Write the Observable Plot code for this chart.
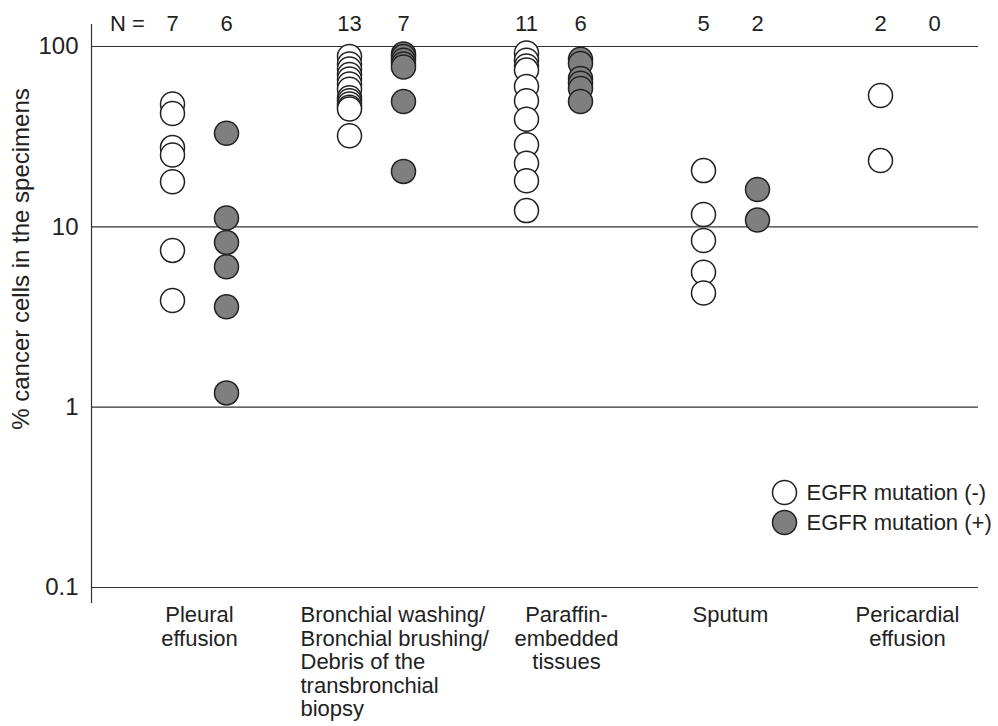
<!DOCTYPE html>
<html>
<head>
<meta charset="utf-8">
<script src="https://cdn.jsdelivr.net/npm/d3@7"></script>
<script src="https://cdn.jsdelivr.net/npm/@observablehq/plot@0.6"></script>
<style>
  html, body { margin: 0; padding: 0; background: #fff; }
</style>
</head>
<body>
<div id="chart"></div>
<script>
// Specimen categories (x)
const groups = ["Pleural", "Bronchial", "Paraffin", "Sputum", "Pericardial"];
const groupLabels = [
  "Pleural\neffusion",
  "Bronchial washing/\nBronchial brushing/\nDebris of the\ntransbronchial\nbiopsy",
  "Paraffin-\nembedded\ntissues",
  "Sputum",
  "Pericardial\neffusion"
];

// % cancer cells, EGFR mutation (-)
const pleuralNeg = [48, 42.5, 27.5, 25, 17.8, 7.4, 3.9];
const bronchialNeg = [88, 80, 75, 70, 66, 62, 58, 52, 50, 48, 46, 45, 32];
const paraffinNeg = [92, 84, 78, 74, 60, 50, 39.5, 28.5, 22.5, 18, 12.3];
const sputumNeg = [20.5, 11.7, 8.4, 5.6, 4.3];
const pericardialNeg = [53.5, 23.3];

// % cancer cells, EGFR mutation (+)
const pleuralPos = [33, 11.2, 8.2, 6.0, 3.6, 1.2];
const bronchialPos = [91, 88, 84, 80, 77, 49.5, 20.3];
const paraffinPos = [85, 80.5, 66.5, 62.5, 58.5, 49.5];
const sputumPos = [16.1, 10.9];
const pericardialPos = [];

const yTicks = [0.1, 1, 10, 100];
const legendLabels = ["EGFR mutation (-)", "EGFR mutation (+)"];
const yLabel = "% cancer cells in the specimens";

const negLists = [pleuralNeg, bronchialNeg, paraffinNeg, sputumNeg, pericardialNeg];
const posLists = [pleuralPos, bronchialPos, paraffinPos, sputumPos, pericardialPos];

const neg = negLists.flatMap((vals, i) => vals.map(v => ({group: groups[i], value: v})));
const pos = posLists.flatMap((vals, i) => vals.map(v => ({group: groups[i], value: v})));
const counts = groups.map((g, i) => ({group: g, nNeg: negLists[i].length, nPos: posLists[i].length}));
const labelRows = groups.map((g, i) => ({group: g, label: groupLabels[i]}));

const GRAY = "#7f7f7f";
const INK = "#222";
const OFF = 27;
const FS = 22;
const LBL = {frameAnchor: "bottom", dy: 18, lineAnchor: "top", lineHeight: 1.07, fontSize: FS, fill: INK};

const chart = Plot.plot({
  width: 998,
  height: 726,
  marginTop: 46,
  marginBottom: 139,
  marginLeft: 91,
  marginRight: 20,
  style: {fontFamily: "'Liberation Sans', Arial, Helvetica, sans-serif", fontSize: "22px", color: "#222", background: "#fff"},
  x: {type: "point", domain: groups, range: [198.5, 908], padding: 0, axis: null},
  y: {type: "log", domain: [0.1, 100], axis: null},
  marks: [
    Plot.ruleY(yTicks, {stroke: "#333", strokeWidth: 1.2}),
    Plot.frame({anchor: "left", insetTop: -22, insetBottom: -15, stroke: "#333", strokeWidth: 1.2}),
    // y tick labels
    Plot.text(yTicks, {y: d => d, text: d => String(d), frameAnchor: "left", textAnchor: "end", dx: -13, fontSize: 24, fill: INK}),
    Plot.text([yLabel], {frameAnchor: "left", rotate: -90, dx: -70, dy: -58, fontSize: 24, textAnchor: "middle", lineAnchor: "middle", fill: INK}),
    // N counts
    Plot.text(["N ="], {frameAnchor: "top-left", dx: 36, dy: -23, fontSize: FS, fill: INK, textAnchor: "middle", lineAnchor: "middle"}),
    Plot.text(counts, {x: "group", text: "nNeg", frameAnchor: "top", dx: -OFF, dy: -23, fontSize: FS, fill: INK, lineAnchor: "middle"}),
    Plot.text(counts, {x: "group", text: "nPos", frameAnchor: "top", dx: OFF, dy: -23, fontSize: FS, fill: INK, lineAnchor: "middle"}),
    // dots
    Plot.dot(neg, {x: "group", y: "value", dx: -OFF, r: 12, fill: "white", stroke: INK, strokeWidth: 1.5}),
    Plot.dot(pos, {x: "group", y: "value", dx: OFF, r: 12, fill: GRAY, stroke: INK, strokeWidth: 1.5}),
    // category labels
    Plot.text(labelRows.filter(d => d.group !== "Bronchial" && d.group !== "Paraffin"), {x: "group", text: "label", ...LBL}),
    Plot.text(labelRows.filter(d => d.group === "Paraffin"), {x: "group", text: "label", dx: 13, ...LBL}),
    Plot.text(labelRows.filter(d => d.group === "Bronchial"), {x: "group", text: "label", dx: -76, textAnchor: "start", ...LBL}),
    // legend
    Plot.dot([legendLabels[0]], {frameAnchor: "top-left", dx: 693, dy: 446, r: 12, fill: "white", stroke: INK, strokeWidth: 1.5}),
    Plot.dot([legendLabels[1]], {frameAnchor: "top-left", dx: 693, dy: 476, r: 12, fill: GRAY, stroke: INK, strokeWidth: 1.5}),
    Plot.text([legendLabels[0]], {frameAnchor: "top-left", dx: 715, dy: 446, textAnchor: "start", lineAnchor: "middle", fontSize: FS, fill: INK}),
    Plot.text([legendLabels[1]], {frameAnchor: "top-left", dx: 715, dy: 476, textAnchor: "start", lineAnchor: "middle", fontSize: FS, fill: INK})
  ]
});
document.getElementById("chart").appendChild(chart);
</script>
</body>
</html>
